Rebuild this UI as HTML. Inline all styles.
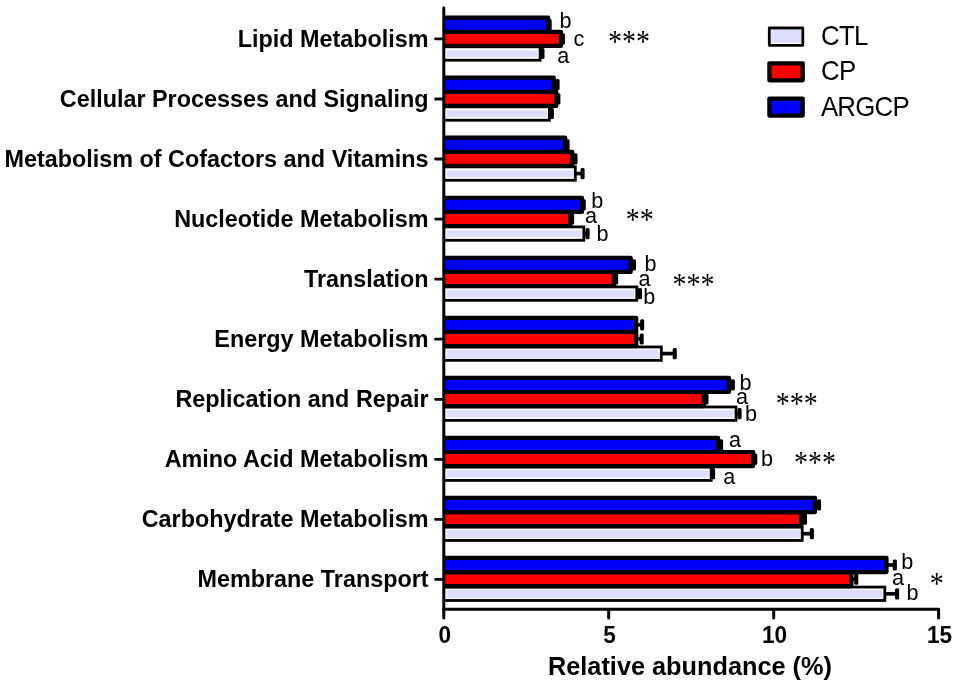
<!DOCTYPE html>
<html lang="en"><head><meta charset="utf-8"><title>Relative abundance</title>
<style>html,body{margin:0;padding:0;background:#fff}svg{display:block}.yl{font:bold 23.3px "Liberation Sans",Arial,sans-serif;text-anchor:end}.xt{font:bold 23.3px "Liberation Sans",Arial,sans-serif;text-anchor:middle}.xl{font:bold 25.3px "Liberation Sans",Arial,sans-serif}.lg{font:27.2px "Liberation Sans",Arial,sans-serif;letter-spacing:-0.8px}.sl{font:21.6px "Liberation Sans",Arial,sans-serif}.st{font:28px "Liberation Serif","Times New Roman",serif;text-anchor:middle}</style></head><body>
<svg width="957" height="687" viewBox="0 0 957 687">
<rect width="957" height="687" fill="#fff"/>
<defs><clipPath id="cb"><rect x="443" y="0" width="514" height="687"/></clipPath></defs>
<g clip-path="url(#cb)">
<path d="M540.1 53.5H542.8" stroke="#000" stroke-width="3.7" fill="none"/>
<rect x="540.4" y="47.9" width="4.1" height="11.2" rx="1.5" fill="#000"/>
<rect x="443.0" y="46.80" width="97.1" height="13.4" fill="#fff" stroke="#000" stroke-width="2.8"/>
<rect x="446.9" y="50.30" width="91.3" height="6.7" fill="#dedffe"/>
<path d="M561.0 38.9H563.3" stroke="#000" stroke-width="3.7" fill="none"/>
<rect x="560.9" y="33.2" width="4.1" height="11.2" rx="1.5" fill="#000"/>
<rect x="443.0" y="31.80" width="118.0" height="14.1" fill="#fe0000" stroke="#000" stroke-width="4.2" stroke-linejoin="round"/>
<path d="M548.2 24.7H550.0" stroke="#000" stroke-width="3.7" fill="none"/>
<rect x="547.6" y="19.1" width="4.1" height="11.2" rx="1.5" fill="#000"/>
<rect x="443.0" y="17.65" width="105.2" height="14.15" fill="#0000fe" stroke="#000" stroke-width="4.2" stroke-linejoin="round"/>
</g>
<g clip-path="url(#cb)">
<path d="M549.4 113.5H552.2" stroke="#000" stroke-width="3.7" fill="none"/>
<rect x="549.8" y="107.9" width="4.1" height="11.2" rx="1.5" fill="#000"/>
<rect x="443.0" y="106.83" width="106.4" height="13.4" fill="#fff" stroke="#000" stroke-width="2.8"/>
<rect x="446.9" y="110.33" width="100.1" height="6.7" fill="#dedffe"/>
<path d="M556.3 98.9H558.7" stroke="#000" stroke-width="3.7" fill="none"/>
<rect x="556.3" y="93.3" width="4.1" height="11.2" rx="1.5" fill="#000"/>
<rect x="443.0" y="91.83" width="113.3" height="14.1" fill="#fe0000" stroke="#000" stroke-width="4.2" stroke-linejoin="round"/>
<path d="M553.8 84.7H557.9" stroke="#000" stroke-width="3.7" fill="none"/>
<rect x="555.5" y="79.1" width="4.1" height="11.2" rx="1.5" fill="#000"/>
<rect x="443.0" y="77.68" width="110.8" height="14.15" fill="#0000fe" stroke="#000" stroke-width="4.2" stroke-linejoin="round"/>
</g>
<g clip-path="url(#cb)">
<path d="M575.3 173.6H582.9" stroke="#000" stroke-width="3.7" fill="none"/>
<rect x="580.5" y="168.0" width="4.1" height="11.2" rx="1.5" fill="#000"/>
<rect x="443.0" y="166.86" width="132.3" height="13.4" fill="#fff" stroke="#000" stroke-width="2.8"/>
<rect x="446.9" y="170.36" width="126.5" height="6.7" fill="#dedffe"/>
<path d="M572.3 158.9H575.8" stroke="#000" stroke-width="3.7" fill="none"/>
<rect x="573.4" y="153.3" width="4.1" height="11.2" rx="1.5" fill="#000"/>
<rect x="443.0" y="151.86" width="129.3" height="14.1" fill="#fe0000" stroke="#000" stroke-width="4.2" stroke-linejoin="round"/>
<path d="M565.2 144.8H567.9" stroke="#000" stroke-width="3.7" fill="none"/>
<rect x="565.5" y="139.2" width="4.1" height="11.2" rx="1.5" fill="#000"/>
<rect x="443.0" y="137.71" width="122.2" height="14.15" fill="#0000fe" stroke="#000" stroke-width="4.2" stroke-linejoin="round"/>
</g>
<g clip-path="url(#cb)">
<path d="M583.8 233.6H587.9" stroke="#000" stroke-width="3.7" fill="none"/>
<rect x="585.5" y="228.0" width="4.1" height="11.2" rx="1.5" fill="#000"/>
<rect x="443.0" y="226.89" width="140.8" height="13.4" fill="#fff" stroke="#000" stroke-width="2.8"/>
<rect x="446.9" y="230.39" width="134.5" height="6.7" fill="#dedffe"/>
<path d="M570.4 218.9H572.5" stroke="#000" stroke-width="3.7" fill="none"/>
<rect x="570.1" y="213.3" width="4.1" height="11.2" rx="1.5" fill="#000"/>
<rect x="443.0" y="211.89" width="127.4" height="14.1" fill="#fe0000" stroke="#000" stroke-width="4.2" stroke-linejoin="round"/>
<path d="M582.0 204.8H584.1" stroke="#000" stroke-width="3.7" fill="none"/>
<rect x="581.7" y="199.2" width="4.1" height="11.2" rx="1.5" fill="#000"/>
<rect x="443.0" y="197.74" width="139.0" height="14.15" fill="#0000fe" stroke="#000" stroke-width="4.2" stroke-linejoin="round"/>
</g>
<g clip-path="url(#cb)">
<path d="M636.8 293.6H640.3" stroke="#000" stroke-width="3.7" fill="none"/>
<rect x="637.9" y="288.0" width="4.1" height="11.2" rx="1.5" fill="#000"/>
<rect x="443.0" y="286.92" width="193.8" height="13.4" fill="#fff" stroke="#000" stroke-width="2.8"/>
<rect x="446.9" y="289.92" width="187.2" height="7.7" fill="#dedffe"/>
<path d="M614.0 279.0H616.5" stroke="#000" stroke-width="3.7" fill="none"/>
<rect x="614.1" y="273.4" width="4.1" height="11.2" rx="1.5" fill="#000"/>
<rect x="443.0" y="271.92" width="171.0" height="14.1" fill="#fe0000" stroke="#000" stroke-width="4.2" stroke-linejoin="round"/>
<path d="M630.7 264.8H634.3" stroke="#000" stroke-width="3.7" fill="none"/>
<rect x="631.9" y="259.2" width="4.1" height="11.2" rx="1.5" fill="#000"/>
<rect x="443.0" y="257.77" width="187.7" height="14.15" fill="#0000fe" stroke="#000" stroke-width="4.2" stroke-linejoin="round"/>
</g>
<g clip-path="url(#cb)">
<path d="M661.3 353.6H675.1" stroke="#000" stroke-width="3.7" fill="none"/>
<rect x="672.7" y="348.0" width="4.1" height="11.2" rx="1.5" fill="#000"/>
<rect x="443.0" y="346.95" width="218.3" height="13.4" fill="#fff" stroke="#000" stroke-width="2.8"/>
<rect x="446.9" y="349.60" width="211.8" height="8.4" fill="#dedffe"/>
<path d="M636.2 339.0H642.0" stroke="#000" stroke-width="3.7" fill="none"/>
<rect x="639.6" y="333.4" width="4.1" height="11.2" rx="1.5" fill="#000"/>
<rect x="443.0" y="331.95" width="193.2" height="14.1" fill="#fe0000" stroke="#000" stroke-width="4.2" stroke-linejoin="round"/>
<path d="M636.2 324.8H642.5" stroke="#000" stroke-width="3.7" fill="none"/>
<rect x="640.1" y="319.2" width="4.1" height="11.2" rx="1.5" fill="#000"/>
<rect x="443.0" y="317.80" width="193.2" height="14.15" fill="#0000fe" stroke="#000" stroke-width="4.2" stroke-linejoin="round"/>
</g>
<g clip-path="url(#cb)">
<path d="M736.0 413.7H739.9" stroke="#000" stroke-width="3.7" fill="none"/>
<rect x="737.5" y="408.1" width="4.1" height="11.2" rx="1.5" fill="#000"/>
<rect x="443.0" y="406.98" width="293.0" height="13.4" fill="#fff" stroke="#000" stroke-width="2.8"/>
<rect x="446.9" y="410.13" width="286.7" height="7.4" fill="#dedffe"/>
<path d="M703.9 399.0H706.8" stroke="#000" stroke-width="3.7" fill="none"/>
<rect x="704.4" y="393.4" width="4.1" height="11.2" rx="1.5" fill="#000"/>
<rect x="443.0" y="391.98" width="260.9" height="14.1" fill="#fe0000" stroke="#000" stroke-width="4.2" stroke-linejoin="round"/>
<path d="M729.0 384.9H733.2" stroke="#000" stroke-width="3.7" fill="none"/>
<rect x="730.8" y="379.3" width="4.1" height="11.2" rx="1.5" fill="#000"/>
<rect x="443.0" y="377.83" width="286.0" height="14.15" fill="#0000fe" stroke="#000" stroke-width="4.2" stroke-linejoin="round"/>
</g>
<g clip-path="url(#cb)">
<path d="M711.2 473.7H713.4" stroke="#000" stroke-width="3.7" fill="none"/>
<rect x="711.0" y="468.1" width="4.1" height="11.2" rx="1.5" fill="#000"/>
<rect x="443.0" y="467.01" width="268.2" height="13.4" fill="#fff" stroke="#000" stroke-width="2.8"/>
<rect x="446.9" y="470.16" width="261.8" height="7.4" fill="#dedffe"/>
<path d="M753.2 459.1H755.6" stroke="#000" stroke-width="3.7" fill="none"/>
<rect x="753.2" y="453.5" width="4.1" height="11.2" rx="1.5" fill="#000"/>
<rect x="443.0" y="452.01" width="310.2" height="14.1" fill="#fe0000" stroke="#000" stroke-width="4.2" stroke-linejoin="round"/>
<path d="M718.0 444.9H721.4" stroke="#000" stroke-width="3.7" fill="none"/>
<rect x="719.0" y="439.3" width="4.1" height="11.2" rx="1.5" fill="#000"/>
<rect x="443.0" y="437.86" width="275.0" height="14.15" fill="#0000fe" stroke="#000" stroke-width="4.2" stroke-linejoin="round"/>
</g>
<g clip-path="url(#cb)">
<path d="M802.2 533.7H812.2" stroke="#000" stroke-width="3.7" fill="none"/>
<rect x="809.8" y="528.1" width="4.1" height="11.2" rx="1.5" fill="#000"/>
<rect x="443.0" y="527.04" width="359.2" height="13.4" fill="#fff" stroke="#000" stroke-width="2.8"/>
<rect x="446.9" y="529.89" width="353.0" height="8.0" fill="#dedffe"/>
<path d="M801.2 519.1H805.3" stroke="#000" stroke-width="3.7" fill="none"/>
<rect x="802.9" y="513.5" width="4.1" height="11.2" rx="1.5" fill="#000"/>
<rect x="443.0" y="512.04" width="358.2" height="14.1" fill="#fe0000" stroke="#000" stroke-width="4.2" stroke-linejoin="round"/>
<path d="M815.0 504.9H819.4" stroke="#000" stroke-width="3.7" fill="none"/>
<rect x="817.0" y="499.3" width="4.1" height="11.2" rx="1.5" fill="#000"/>
<rect x="443.0" y="497.89" width="372.0" height="14.15" fill="#0000fe" stroke="#000" stroke-width="4.2" stroke-linejoin="round"/>
</g>
<g clip-path="url(#cb)">
<path d="M884.8 593.8H897.4" stroke="#000" stroke-width="3.7" fill="none"/>
<rect x="895.0" y="588.2" width="4.1" height="11.2" rx="1.5" fill="#000"/>
<rect x="443.0" y="587.07" width="441.8" height="13.4" fill="#fff" stroke="#000" stroke-width="2.8"/>
<rect x="446.9" y="589.82" width="435.5" height="8.2" fill="#dedffe"/>
<path d="M851.4 579.1H856.6" stroke="#000" stroke-width="3.7" fill="none"/>
<rect x="854.2" y="573.5" width="4.1" height="11.2" rx="1.5" fill="#000"/>
<rect x="443.0" y="572.07" width="408.4" height="14.1" fill="#fe0000" stroke="#000" stroke-width="4.2" stroke-linejoin="round"/>
<path d="M886.5 565.0H895.2" stroke="#000" stroke-width="3.7" fill="none"/>
<rect x="892.8" y="559.4" width="4.1" height="11.2" rx="1.5" fill="#000"/>
<rect x="443.0" y="557.92" width="443.5" height="14.15" fill="#0000fe" stroke="#000" stroke-width="4.2" stroke-linejoin="round"/>
</g>
<g stroke="#000" stroke-width="3" stroke-linecap="round" fill="none">
<path d="M443.8 7.8V609.35H938.6"/>
<path d="M443.8 609.4V618"/>
<path d="M608.7 609.4V618"/>
<path d="M773.7 609.4V618"/>
<path d="M938.6 609.4V618"/>
<path d="M435.6 38.9H443.8" stroke-width="2.8"/>
<path d="M435.6 99.0H443.8" stroke-width="2.8"/>
<path d="M435.6 159.0H443.8" stroke-width="2.8"/>
<path d="M435.6 219.1H443.8" stroke-width="2.8"/>
<path d="M435.6 279.1H443.8" stroke-width="2.8"/>
<path d="M435.6 339.2H443.8" stroke-width="2.8"/>
<path d="M435.6 399.3H443.8" stroke-width="2.8"/>
<path d="M435.6 459.3H443.8" stroke-width="2.8"/>
<path d="M435.6 519.4H443.8" stroke-width="2.8"/>
<path d="M435.6 579.4H443.8" stroke-width="2.8"/>
</g>
<text class="yl" transform="translate(428.6 46.7) scale(1.003 1)">Lipid Metabolism</text>
<text class="yl" transform="translate(428.6 106.8) scale(1.003 1)">Cellular Processes and Signaling</text>
<text class="yl" transform="translate(428.6 166.8) scale(1.003 1)">Metabolism of Cofactors and Vitamins</text>
<text class="yl" transform="translate(428.6 226.9) scale(1.003 1)">Nucleotide Metabolism</text>
<text class="yl" transform="translate(428.6 286.9) scale(1.003 1)">Translation</text>
<text class="yl" transform="translate(428.6 347.0) scale(1.003 1)">Energy Metabolism</text>
<text class="yl" transform="translate(428.6 407.1) scale(1.003 1)">Replication and Repair</text>
<text class="yl" transform="translate(428.6 467.1) scale(1.003 1)">Amino Acid Metabolism</text>
<text class="yl" transform="translate(428.6 527.2) scale(1.003 1)">Carbohydrate Metabolism</text>
<text class="yl" transform="translate(428.6 587.2) scale(1.003 1)">Membrane Transport</text>
<text class="xt" transform="translate(444.7 643) scale(0.97 1)">0</text>
<text class="xt" transform="translate(609.6 643) scale(0.97 1)">5</text>
<text class="xt" transform="translate(774.6 643) scale(0.97 1)">10</text>
<text class="xt" transform="translate(939.5 643) scale(0.97 1)">15</text>
<text class="xl" x="548" y="675.4">Relative abundance (%)</text>
<rect x="769.3" y="28" width="33.5" height="17.3" fill="#fff" stroke="#000" stroke-width="2.8" stroke-linejoin="round"/>
<rect x="771.3" y="29.9" width="29.6" height="13" fill="#dedffe"/>
<rect x="769.4" y="63.3" width="33.3" height="17" fill="#fe0000" stroke="#000" stroke-width="4.3" stroke-linejoin="round"/>
<rect x="769.4" y="98.6" width="33.3" height="17" fill="#0000fe" stroke="#000" stroke-width="4.3" stroke-linejoin="round"/>
<text class="lg" transform="translate(821 45.4) scale(0.95 1)">CTL</text>
<text class="lg" transform="translate(821 80.2) scale(0.95 1)">CP</text>
<text class="lg" transform="translate(820.9 115.6) scale(0.95 1)">ARGCP</text>
<text class="sl" x="559.4" y="27.9">b</text>
<text class="sl" x="573.6" y="45.5">c</text>
<text class="sl" x="557.2" y="62.5">a</text>
<text class="sl" x="591.3" y="207.6">b</text>
<text class="sl" x="585.1" y="222.5">a</text>
<text class="sl" x="596.5" y="240.5">b</text>
<text class="sl" x="644.6" y="271.0">b</text>
<text class="sl" x="638.4" y="285.5">a</text>
<text class="sl" x="643.3" y="304.0">b</text>
<text class="sl" x="739.4" y="390.4">b</text>
<text class="sl" x="735.9" y="403.9">a</text>
<text class="sl" x="744.9" y="421.4">b</text>
<text class="sl" x="729.0" y="446.5">a</text>
<text class="sl" x="761.1" y="466.3">b</text>
<text class="sl" x="723.3" y="483.7">a</text>
<text class="sl" x="901.3" y="568.5">b</text>
<text class="sl" x="892.1" y="585.2">a</text>
<text class="sl" x="906.6" y="600.2">b</text>
<text class="st" transform="translate(628.9 37.2) scale(1 1.14)" x="0" y="13.2">***</text>
<text class="st" transform="translate(639.8 215.1) scale(1 1.14)" x="0" y="13.2">**</text>
<text class="st" transform="translate(693.6 279.5) scale(1 1.14)" x="0" y="13.2">***</text>
<text class="st" transform="translate(796.7 398.5) scale(1 1.14)" x="0" y="13.2">***</text>
<text class="st" transform="translate(815.1 457.8) scale(1 1.14)" x="0" y="13.2">***</text>
<text class="st" transform="translate(936.7 578.7) scale(1 1.14)" x="0" y="13.2">*</text>
</svg></body></html>
